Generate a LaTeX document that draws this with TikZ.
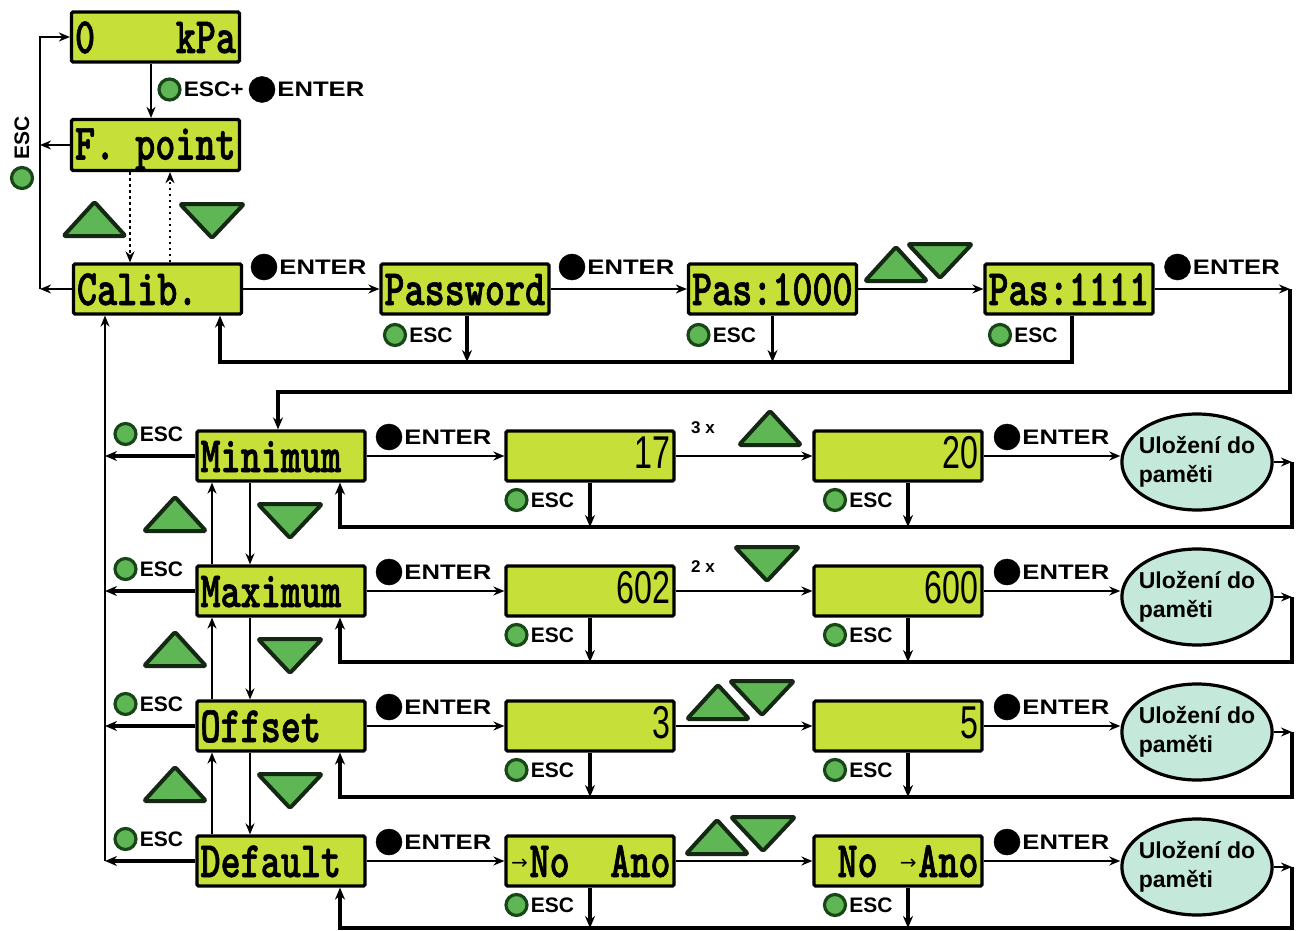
\documentclass[tikz,border=0pt]{standalone}
\usepackage{fontspec}
\setmainfont{Liberation Sans}
\newfontfamily\lcdfam{lmmonolt10-bold.otf}[FakeStretch=0.75,FakeBold=1.2]
\newfontfamily\numfam{Liberation Sans}[FakeStretch=0.7]
\newfontfamily\entfam{Liberation Sans}[FakeStretch=1.22]
\newfontfamily\escpfam{Liberation Sans}[FakeStretch=1.08]
\newfontfamily\arrfam{DejaVu Sans}
\usetikzlibrary{shapes.geometric,arrows.meta,calc}
\definecolor{lcdcol}{RGB}{199,224,57}
\definecolor{gfill}{RGB}{95,182,85}
\definecolor{gdark}{RGB}{25,70,25}
\definecolor{tridark}{RGB}{20,40,20}
\definecolor{ovalcol}{RGB}{196,232,218}
\newcommand\lcdtxt[1]{\hbox to 161pt{\lcdfam\fontsize{51}{51}\selectfont\vrule width 0pt height 40pt depth 8pt\relax #1}}
\newcommand\numtxt[1]{\hbox to 161pt{\numfam\fontsize{46}{46}\selectfont\vrule width 0pt height 36pt depth 12pt\relax\hfill #1}}
\newcommand\arrcell{\hbox to 20pt{\hss\raisebox{8pt}{\arrfam\fontsize{20}{20}\selectfont →}\hss}}
\newcommand\escbtn[3]{%
  \node[gbtn] (#1) at (#2,#3) {};
  \node[esct, anchor=west] (#1t) at ([xshift=1pt]#1.east) {ESC};}
\newcommand\entbtn[3]{%
  \node[bbtn] (#1) at (#2,#3) {};
  \node[entt, anchor=west] (#1t) at ([xshift=1pt]#1.east) {ENTER};}
\begin{document}
\begin{tikzpicture}[x=1pt,y=-1pt,
  lcd/.style={draw=black, line width=3.2pt, fill=lcdcol, rounded corners=1.5pt, inner xsep=3.5pt, inner ysep=0pt, minimum height=50pt},
  oval/.style={ellipse, draw=black, line width=3.2pt, fill=ovalcol, minimum width=150pt, minimum height=96pt, inner xsep=-5pt, inner ysep=0pt, align=left, font=\bfseries\fontsize{23}{29}\selectfont},
  gbtn/.style={circle, draw=gdark, line width=3.2pt, fill=gfill, minimum size=21pt, inner sep=0pt},
  bbtn/.style={circle, fill=black, draw=black, line width=0.5pt, minimum size=26pt, inner sep=0pt},
  esct/.style={font=\bfseries\fontsize{21}{21}\selectfont, inner sep=1pt},
  entt/.style={font=\entfam\bfseries\fontsize{21}{21}\selectfont, inner sep=1pt},
  tri/.style={draw=tridark, fill=gfill, line width=4pt, line join=round, rounded corners=1.5pt},
  uptri/.pic={\path[tri] (-31,17) -- (31,17) -- (0,-17) -- cycle;},
  dntri/.pic={\path[tri] (-32,-17) -- (32,-17) -- (0,17) -- cycle;},
  arr/.style={-{Stealth[length=11pt,width=9pt]}, line width=1.8pt},
  varr/.style={-{Stealth[length=11pt,width=9pt]}, line width=2.2pt},
  tarr/.style={-{Stealth[length=12pt,width=10pt]}, line width=3.2pt},
  dots/.style={line width=2.8pt, dash pattern=on 2.8pt off 3.2pt},
  smalltxt/.style={font=\bfseries\fontsize{17}{17}\selectfont, inner sep=1pt}
]
\useasboundingbox (0,0) rectangle (1296,931);

% ---------- top boxes ----------
\node[lcd] (kpa) at (155.5,37) {\lcdtxt{0\hfill kPa}};
\node[lcd] (fp) at (155.5,145) {\lcdtxt{F. point\hfill}};
\node[lcd] (cal) at (157.5,289) {\lcdtxt{Calib.\hfill}};
\node[lcd] (pw) at (465,289) {\lcdtxt{Password\hfill}};
\node[lcd] (pa) at (772.5,289) {\lcdtxt{Pas:1000\hfill}};
\node[lcd] (pb) at (1069,289) {\lcdtxt{Pas:1111\hfill}};

% ---------- menu rows ----------
\foreach \i/\t in {1/Minimum,2/Maximum,3/Offset,4/Default}
  \node[lcd] (m\i) at (281,{456+135*(\i-1)}) {\lcdtxt{\t\hfill}};
\node[lcd] (a1) at (590,456) {\numtxt{17}};
\node[lcd] (b1) at (898,456) {\numtxt{20}};
\node[lcd] (a2) at (590,591) {\numtxt{602}};
\node[lcd] (b2) at (898,591) {\numtxt{600}};
\node[lcd] (a3) at (590,726) {\numtxt{3}};
\node[lcd] (b3) at (898,726) {\numtxt{5}};
\node[lcd] (a4) at (590,861) {\lcdtxt{\arrcell No\hfill Ano}};
\node[lcd] (b4) at (898,861) {\lcdtxt{\kern20pt No\hfill\arrcell Ano}};
\foreach \i in {1,...,4}
  \node[oval] (o\i) at (1197,{462+135*(\i-1)}) {Uložení do\\paměti};

% ---------- triangles ----------
\pic at (94.5,219) {uptri};
\pic at (212,221) {dntri};
\pic at (896,264) {uptri};
\pic at (940,261) {dntri};
\foreach \i in {0,1,2} {
  \pic at (175,{514+135*\i}) {uptri};
  \pic at (290,{521+135*\i}) {dntri};
}
\pic at (770,428) {uptri};
\pic at (767,564) {dntri};
\pic at (718,702) {uptri};
\pic at (762,698) {dntri};
\pic at (717,837) {uptri};
\pic at (763,834) {dntri};
\node[smalltxt] (t3x) at (703,428) {3 x};
\node[smalltxt] (t2x) at (703,567) {2 x};

% ---------- button labels ----------
\node[gbtn] (kg) at (169.5,89.5) {};
\node[font=\escpfam\bfseries\fontsize{21}{21}\selectfont, inner sep=1pt, anchor=west] (kgt) at ([xshift=1pt]kg.east) {ESC+};
\node[bbtn] (kb) at (262,89.5) {};
\node[entt, anchor=west] (kbt) at ([xshift=1pt]kb.east) {ENTER};
\node[esct, rotate=90] (vesc) at (22,138) {ESC};
\node[gbtn] (vg) at (22,178) {};
\entbtn{ce}{264}{267}
\entbtn{pwn}{572}{267}
\entbtn{pbn}{1177.5}{267}
\escbtn{pwe}{395}{335}
\escbtn{pae}{698.5}{335}
\escbtn{pbe}{1000}{335}
\foreach \i/\dy in {1/0,2/135,3/270,4/405} {
  \escbtn{le\i}{125.5}{434+\dy}
  \entbtn{me\i}{389}{437+\dy}
  \escbtn{ae\i}{516.5}{500+\dy}
  \escbtn{be\i}{835}{500+\dy}
  \entbtn{oe\i}{1007}{437+\dy}
}

% ---------- connectors: top ----------
\coordinate (L1) at (40,289);
\draw[varr] (cal.west) -- (cal.west -| L1);
\draw[varr] (fp.west) -- (fp.west -| L1);
\draw[varr] (cal.west -| L1) -- (kpa.west -| L1) -- (kpa.west);
\draw[varr] ([xshift=-4.5pt]kpa.south) -- ([xshift=-4.5pt]fp.north);
\draw[varr,dots] ([xshift=-25.5pt]fp.south) -- ([xshift=-27.5pt]cal.north);
\draw[varr,dots] ([xshift=12.5pt]cal.north) -- ([xshift=14.5pt]fp.south);

% ---------- connectors: password row ----------
\draw[arr] (cal.east) -- (pw.west);
\draw[arr] (pw.east) -- (pa.west);
\draw[arr] (pa.east) -- (pb.west);
\coordinate (tr) at (1290,289);
\coordinate (tr2) at (1290,392);
\draw[arr] (pb.east) -- (tr);
\draw[tarr] (tr) -- (tr2) -| ([xshift=-3pt]m1.north);
\coordinate (e1) at (1072,362);
\draw[tarr] ([xshift=2pt]pw.south) -- ([xshift=2pt]pw.south |- e1);
\draw[tarr] (pa.south) -- (pa.south |- e1);
\draw[tarr] ([xshift=3pt]pb.south) -- ([xshift=3pt]pb.south |- e1) -| ([xshift=62.5pt]cal.south);

% ---------- connectors: left column ----------
\coordinate (L2) at (105,861);
\draw[varr] (L2) -- ([xshift=-52.5pt]cal.south);
\foreach \i/\j in {1/2,2/3,3/4} {
  \draw[varr] ([xshift=-69pt]m\j.north) -- ([xshift=-69pt]m\i.south);
  \draw[varr] ([xshift=-31pt]m\i.south) -- ([xshift=-31pt]m\j.north);
}

% ---------- connectors: value rows ----------
\foreach \i/\ry in {1/527,2/662,3/797,4/928} {
  \coordinate (rc\i) at (1292,\ry);
  \draw[tarr] (m\i.west) -- (m\i.west -| L2);
  \draw[arr] (m\i.east) -- (a\i.west);
  \draw[arr] (a\i.east) -- (b\i.west);
  \draw[arr] (b\i.east) -- (b\i.east -| o\i.west);
  \draw[arr] (o\i.east) -- (o\i.east -| rc\i);
  \draw[tarr] (o\i.east -| rc\i) -- (rc\i) -| ([xshift=59pt]m\i.south);
  \draw[tarr] (a\i.south) -- (a\i.south |- rc\i);
  \draw[tarr] ([xshift=10pt]b\i.south) -- ([xshift=10pt]b\i.south |- rc\i);
}
\end{tikzpicture}
\end{document}
